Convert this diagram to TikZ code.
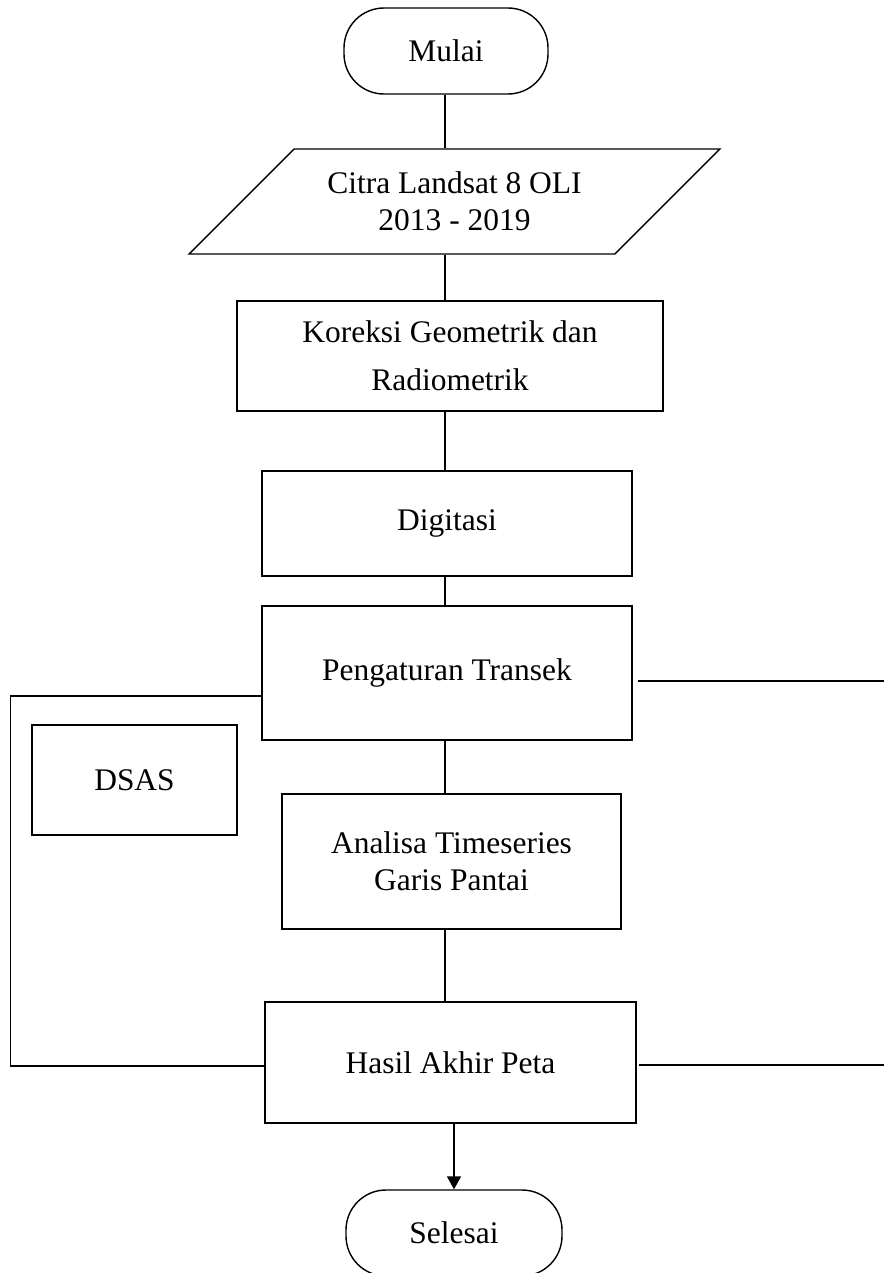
\documentclass[tikz,border=0pt]{standalone}
\usepackage{fontspec}
\setmainfont{Liberation Serif}
\usetikzlibrary{shapes.geometric, arrows.meta, positioning, calc}

\tikzset{
  kotak/.style={draw, rectangle, align=center, line width=0.8pt, font=\fontsize{17.9}{21}\selectfont},
  ujung/.style={kotak, rounded corners=0.8cm, minimum width=4.08cm, minimum height=1.72cm},
  masukan/.style={kotak, trapezium, trapezium left angle=45, trapezium right angle=135,
    trapezium stretches body, inner ysep=0.46cm, minimum width=10.62cm, minimum height=2.1cm}
}

\begin{document}
\begin{tikzpicture}[line width=0.8pt]
  \useasboundingbox (0,0) rectangle (17.66,-25.46);
  % 流程节点
  \node[ujung] (mulai) at (8.92,-1.02) {Mulai};
  \node[masukan] (citra) at (9.09,-4.03) {Citra Landsat 8 OLI\\2013 - 2019};
  \node[kotak, minimum width=8.52cm, minimum height=2.2cm, font=\fontsize{17.9}{27.5}\selectfont] (koreksi) at (9.0,-7.12) {Koreksi Geometrik dan\\Radiometrik};
  \node[kotak, minimum width=7.4cm, minimum height=2.1cm] (digitasi) at (8.94,-10.47) {Digitasi};
  \node[kotak, minimum width=7.4cm, minimum height=2.68cm] (transek) at (8.94,-13.46) {Pengaturan Transek};
  \node[kotak, minimum width=4.1cm, minimum height=2.2cm] (dsas) at (2.69,-15.6) {DSAS};
  \node[kotak, minimum width=6.78cm, minimum height=2.7cm] (analisa) at (9.03,-17.23) {Analisa Timeseries\\Garis Pantai};
  \node[kotak, minimum width=7.42cm, minimum height=2.42cm] (hasil) at (9.01,-21.25) {Hasil Akhir Peta};
  \node[ujung, minimum width=4.32cm] (selesai) at (9.08,-24.66) {Selesai};

  % 连接线
  \coordinate (sumbu) at (8.9,0);
  \foreach \a/\b in {mulai/citra, citra/koreksi, koreksi/digitasi, digitasi/transek, transek/analisa, analisa/hasil}
    \draw (\a.south -| sumbu) -- (\b.north -| sumbu);
  \draw[-{Triangle[length=0.26cm,width=0.28cm]}] (hasil.south -| selesai) -- (selesai.north);

  \draw ([yshift=-0.46cm]transek.west) -- ++(-5.02,0) |- ([yshift=-0.07cm]hasil.west);
  \draw ([xshift=0.1cm,yshift=-0.16cm]transek.east) -- ++(4.92,0);
  \draw ([xshift=0.04cm,yshift=-0.05cm]hasil.east) -- ++(4.92,0);
\end{tikzpicture}
\end{document}
